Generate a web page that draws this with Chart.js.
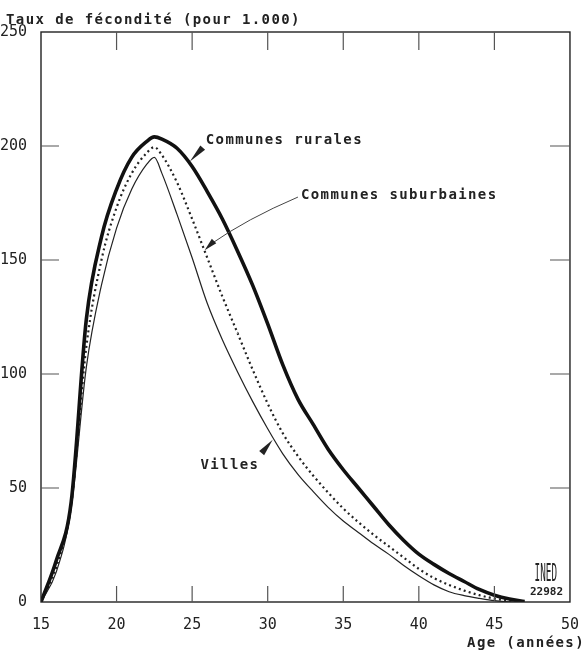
<!DOCTYPE html>
<html>
<head>
<meta charset="utf-8">
<script src="https://cdn.jsdelivr.net/npm/chart.js@4/dist/chart.umd.min.js"></script>
<style>
  html, body { margin: 0; padding: 0; background: #fff; }
  #wrap { width: 585px; height: 651px; }
</style>
</head>
<body>
<div id="wrap"><canvas id="fecondite"></canvas></div>
<script>
// Age de la mère (années)
const ages = [15, 16, 17, 18, 19, 20, 21, 22, 22.5, 23, 24, 25, 26, 27, 28, 29, 30, 31, 32,
              33, 34, 35, 36, 37, 38, 39, 40, 41, 42, 43, 44, 45, 46, 47];

// Taux de fécondité pour 1.000 femmes
const rurales = [0, 18, 44, 124, 160, 181, 195, 202, 204, 203, 199, 191, 180, 168, 154, 139, 122, 104, 89,
                 78, 67, 58, 50, 42, 34, 27, 21, 16.5, 12.5, 9, 5.5, 3, 1.3, 0.2];
const suburbaines = [0, 15, 43, 112, 150, 173, 188, 197, 199.5, 196, 184, 168, 151, 134, 118, 102, 87, 74, 64,
                     55.5, 48, 41, 35, 29.5, 24.5, 19.5, 14.5, 10.5, 7.5, 5, 3, 1.5, 0.5, 0];
const villes = [0, 13, 41, 103, 139, 164, 181, 192, 195, 188, 170, 151, 131, 115, 101, 88, 76, 65, 56,
                48.5, 41.5, 35.5, 30.5, 25.5, 21, 16, 11.5, 7.5, 4.5, 2.8, 1.6, 0.6, 0.1, 0];

const xTicks = [15, 20, 25, 30, 35, 40, 45, 50];
const yTicks = [0, 50, 100, 150, 200, 250];

const ink = '#222';
const mono = "'DejaVu Sans Mono', 'Liberation Mono', monospace";

function pts(values) {
    return ages.map((a, i) => ({ x: a, y: values[i] }));
}

// ticks inside the frame, frame, and the typed labels
const decor = {
    id: 'decor',
    afterDraw(chart) {
        const { ctx, chartArea: ca, scales: { x, y } } = chart;
        ctx.save();
        ctx.strokeStyle = ink;
        ctx.lineWidth = 1.4;
        ctx.strokeRect(ca.left, ca.top, ca.right - ca.left, ca.bottom - ca.top);

        ctx.lineWidth = 1.2;
        ctx.strokeStyle = '#555';
        xTicks.slice(1, -1).forEach(v => {
            const px = x.getPixelForValue(v);
            ctx.beginPath();
            ctx.moveTo(px, ca.bottom); ctx.lineTo(px, ca.bottom - 16);
            ctx.moveTo(px, ca.top); ctx.lineTo(px, ca.top + 18);
            ctx.stroke();
        });
        yTicks.slice(1, -1).forEach(v => {
            const py = y.getPixelForValue(v);
            ctx.beginPath();
            ctx.moveTo(ca.left, py); ctx.lineTo(ca.left + 18, py);
            ctx.moveTo(ca.right, py); ctx.lineTo(ca.right - 20, py);
            ctx.stroke();
        });

        // texts
        ctx.fillStyle = ink;
        ctx.letterSpacing = '1.4px';
        ctx.font = 'bold 14px ' + mono;
        ctx.textBaseline = 'alphabetic';
        ctx.textAlign = 'left';
        ctx.fillText('Taux de fécondité (pour 1.000)', 6, 24);

        ctx.textAlign = 'right';
        ctx.fillText('Age (années)', 585, 647);

        ctx.textAlign = 'left';
        ctx.textBaseline = 'middle';
        const P = (a, t) => [x.getPixelForValue(a), y.getPixelForValue(t)];

        let [tx, ty] = P(25.9, 202.5);
        ctx.fillText('Communes rurales', tx, ty);
        [tx, ty] = P(32.2, 178.5);
        ctx.fillText('Communes suburbaines', tx, ty);
        [tx, ty] = P(25.55, 60);
        ctx.fillText('Villes', tx, ty);

        // arrows
        function wedge(a0, v0, a1, v1) {
            const [x0, y0] = P(a0, v0), [x1, y1] = P(a1, v1);
            const ang = Math.atan2(y1 - y0, x1 - x0);
            const w = 3.2;
            ctx.beginPath();
            ctx.moveTo(x1, y1);
            ctx.lineTo(x0 + w * Math.sin(ang), y0 - w * Math.cos(ang));
            ctx.lineTo(x0 - w * Math.sin(ang), y0 + w * Math.cos(ang));
            ctx.closePath();
            ctx.fill();
        }
        wedge(25.7, 199.3, 24.85, 193.2);
        wedge(29.6, 65.3, 30.33, 71.2);

        const [sx, sy] = P(32.0, 177.6), [cx, cy] = P(28.6, 168), [ex, ey] = P(26.2, 156.8);
        ctx.lineWidth = 1;
        ctx.strokeStyle = '#444';
        ctx.beginPath();
        ctx.moveTo(sx, sy);
        ctx.quadraticCurveTo(cx, cy, ex, ey);
        ctx.stroke();
        wedge(26.45, 158.3, 25.83, 154.3);

        // INED stamp
        ctx.textAlign = 'center';
        ctx.letterSpacing = '0px';
        [tx, ty] = P(48.4, 11.8);
        ctx.save();
        ctx.translate(tx, ty);
        ctx.scale(0.62, 1.6);
        ctx.font = '15px ' + mono;
        ctx.fillText('INED', 0, 0);
        ctx.restore();
        [tx, ty] = P(48.45, 4.4);
        ctx.font = 'bold 11px ' + mono;
        ctx.fillText('22982', tx, ty);
        ctx.restore();
    }
};

new Chart(document.getElementById('fecondite').getContext('2d'), {
    type: 'line',
    data: {
        datasets: [
            {
                label: 'Communes rurales',
                data: pts(rurales),
                borderColor: '#111',
                borderWidth: 3.6,
                pointRadius: 0,
                cubicInterpolationMode: 'monotone'
            },
            {
                label: 'Communes suburbaines',
                data: pts(suburbaines),
                borderColor: '#222',
                borderWidth: 2.2,
                borderDash: [2, 3.2],
                pointRadius: 0,
                cubicInterpolationMode: 'monotone'
            },
            {
                label: 'Villes',
                data: pts(villes),
                borderColor: '#222',
                borderWidth: 1.2,
                pointRadius: 0,
                cubicInterpolationMode: 'monotone'
            }
        ]
    },
    options: {
        responsive: true,
        maintainAspectRatio: false,
        animation: false,
        layout: { padding: { top: 32, right: 7, left: 0, bottom: 0 } },
        plugins: {
            legend: { display: false },
            tooltip: { enabled: false }
        },
        scales: {
            x: {
                type: 'linear',
                min: 15,
                max: 50,
                afterFit: s => { s.height = 49; },
                afterBuildTicks: s => { s.ticks = xTicks.map(v => ({ value: v })); },
                grid: { display: false },
                border: { display: false },
                ticks: {
                    color: ink,
                    padding: 6,
                    maxRotation: 0,
                    font: { family: mono, size: 15 }
                }
            },
            y: {
                min: 0,
                max: 250,
                afterFit: s => { s.width = 41; },
                afterBuildTicks: s => { s.ticks = yTicks.map(v => ({ value: v })); },
                grid: { display: false },
                border: { display: false },
                ticks: {
                    color: ink,
                    padding: 6,
                    font: { family: mono, size: 15 }
                }
            }
        }
    },
    plugins: [decor]
});
</script>
</body>
</html>
